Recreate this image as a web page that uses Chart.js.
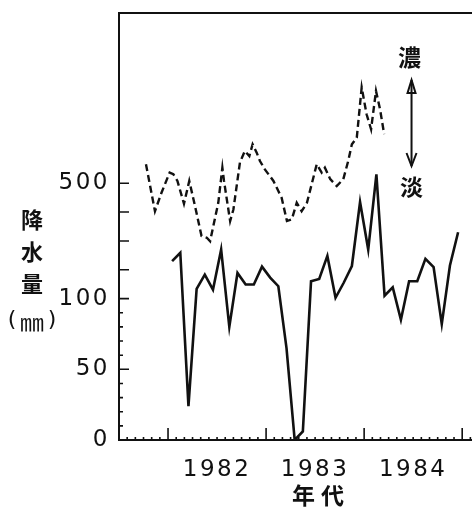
<!DOCTYPE html>
<html>
<head>
<meta charset="utf-8">
<script src="https://cdn.jsdelivr.net/npm/chart.js@4/dist/chart.umd.min.js"></script>
<style>
  html, body { margin: 0; padding: 0; background: #fff; }
  #wrap { width: 472px; height: 507px; }
</style>
</head>
<body>
<div id="wrap"><canvas id="chart"></canvas></div>
<script>
// months counted from the start of Jan 1982
const rainMonths = [0.5, 1.5, 2.5, 3.5, 4.5, 5.5, 6.5, 7.5, 8.5, 9.5, 10.5, 11.5,
  12.5, 13.5, 14.5, 15.5, 16.5, 17.5, 18.5, 19.5, 20.5, 21.5, 22.5, 23.5,
  24.5, 25.5, 26.5, 27.5, 28.5, 29.5, 30.5, 31.5, 32.5, 33.5, 34.5, 35.5];
const rainfall = [230, 259, 24, 134, 183, 131, 270, 80, 189, 149, 149, 211,
  173, 143, 65, 0, 6, 160, 168, 248, 103, 155, 213, 435,
  270, 531, 110, 139, 85, 160, 160, 238, 209, 82, 215, 330];

// dashed curve (concentration, drawn against the same axis)
const concMonths = [-2.7, -1.6, -0.8, 0.2, 0.65, 1.15, 1.95, 2.6, 3.3, 4.1, 4.75, 5.15,
  6.15, 6.65, 6.85, 7.6, 8.0, 8.8, 9.4, 9.95, 10.35, 10.85, 11.25, 11.85,
  12.9, 13.5, 13.9, 14.55, 15.15, 15.75, 16.35, 17.0, 18.2, 18.8, 19.2, 19.85,
  20.65, 21.45, 22.05, 22.5, 23.1, 23.7, 24.3, 24.85, 25.45, 25.95, 26.45];
const concLevel = [566, 403, 467, 537, 531, 508, 429, 508, 421, 317, 311, 299,
  432, 554, 508, 369, 409, 572, 612, 594, 635, 606, 577, 548,
  508, 473, 450, 369, 375, 432, 403, 432, 566, 537, 554, 514,
  490, 514, 577, 635, 658, 832, 739, 687, 820, 756, 670];

const yearLabels = ['1982', '1983', '1984'];
const yearLabelAt = [6, 18, 30];
const yearStarts = [0, 12, 24, 36];
const yLabelTicks = [0, 50, 100, 500];
const yLongTicks = [0, 50, 100, 200, 300, 400, 500];
const yShortTicks = [10, 20, 30, 40, 60, 70, 80, 90];

// axis is linear up to 100 mm, then compressed above it
const BREAK_AT = 100;
const LOW_STEP = 50;
const HIGH_STEP = 245;

function toUnits(v) {
  return v <= BREAK_AT ? v / LOW_STEP : BREAK_AT / LOW_STEP + (v - BREAK_AT) / HIGH_STEP;
}
function fromUnits(u) {
  const b = BREAK_AT / LOW_STEP;
  return u <= b ? u * LOW_STEP : BREAK_AT + (u - b) * HIGH_STEP;
}

class BrokenScale extends Chart.LinearScale {
  determineDataLimits() {
    this.min = toUnits(this.options.min);
    this.max = toUnits(this.options.max);
  }
  buildTicks() {
    return yLabelTicks.map(v => ({ value: v }));
  }
  getPixelForValue(value) {
    return super.getPixelForValue(toUnits(value));
  }
  getValueForPixel(pixel) {
    return fromUnits(super.getValueForPixel(pixel));
  }
}
BrokenScale.id = 'broken';
Chart.register(BrokenScale);

const INK = '#111';

const spacing = {
  id: 'spacing',
  beforeUpdate(chart) { chart.ctx.letterSpacing = '2.5px'; },
  beforeDraw(chart) { chart.ctx.letterSpacing = '2.5px'; }
};

const decor = {
  id: 'decor',
  afterDraw(chart) {
    const ctx = chart.ctx;
    const area = chart.chartArea;
    const xs = chart.scales.x;
    const ys = chart.scales.y;
    ctx.save();
    ctx.strokeStyle = INK;
    ctx.fillStyle = INK;

    // top frame line
    ctx.lineWidth = 2;
    ctx.beginPath();
    ctx.moveTo(area.left - 1, area.top);
    ctx.lineTo(area.right, area.top);
    ctx.stroke();

    // inward ticks
    ctx.lineWidth = 1.6;
    ctx.beginPath();
    yLongTicks.forEach(v => {
      const p = ys.getPixelForValue(v);
      ctx.moveTo(area.left, p);
      ctx.lineTo(area.left + 10, p);
    });
    yShortTicks.forEach(v => {
      const p = ys.getPixelForValue(v);
      ctx.moveTo(area.left, p);
      ctx.lineTo(area.left + 4, p);
    });
    yearStarts.forEach(v => {
      const p = xs.getPixelForValue(v);
      ctx.moveTo(p, area.bottom);
      ctx.lineTo(p, area.bottom - 12);
    });
    for (let m = Math.ceil(xs.min); m <= xs.max; m++) {
      const p = xs.getPixelForValue(m);
      ctx.moveTo(p, area.bottom);
      ctx.lineTo(p, area.bottom - 3);
    }
    ctx.stroke();

    ctx.textAlign = 'center';
    ctx.textBaseline = 'middle';

    // y title, stacked
    ctx.letterSpacing = '0px';
    ctx.font = 'bold 22px "Noto Sans CJK JP"';
    const tx = area.left - 87;
    const base = ys.getPixelForValue(100);
    ['降', '水', '量'].forEach((ch, i) => ctx.fillText(ch, tx, base - 79 + i * 32));
    ctx.font = '24px "Noto Sans CJK JP"';
    ctx.fillText('㎜', tx, base + 23);
    ctx.font = '22px "DejaVu Sans"';
    ctx.fillText('(', tx - 20, base + 22);
    ctx.fillText(')', tx + 20, base + 22);

    // x title
    ctx.font = 'bold 23px "Noto Sans CJK JP"';
    ctx.letterSpacing = '6px';
    ctx.fillText('年代', xs.getPixelForValue(18) + 6, chart.height - 12);
    ctx.letterSpacing = '0px';

    // 濃 ↕ 淡
    const ax = xs.getPixelForValue(29.8);
    ctx.font = 'bold 23px "Noto Sans CJK JP"';
    ctx.fillText('濃', ax - 2, area.top + 44);
    ctx.fillText('淡', ax, area.top + 174);
    const y1 = area.top + 67, y2 = area.top + 153;
    ctx.lineWidth = 2;
    ctx.beginPath();
    ctx.moveTo(ax, y1);
    ctx.lineTo(ax, y2);
    ctx.stroke();
    ctx.beginPath();
    ctx.moveTo(ax, y1);
    ctx.lineTo(ax - 4, y1 + 13);
    ctx.lineTo(ax + 4, y1 + 13);
    ctx.closePath();
    ctx.stroke();
    ctx.beginPath();
    ctx.moveTo(ax - 5, y2 - 13);
    ctx.lineTo(ax, y2);
    ctx.lineTo(ax + 5, y2 - 13);
    ctx.stroke();

    ctx.restore();
  }
};

new Chart(document.getElementById('chart'), {
  type: 'line',
  data: {
    datasets: [
      {
        label: '降水量',
        data: rainMonths.map((m, i) => ({ x: m, y: rainfall[i] })),
        borderColor: INK,
        borderWidth: 2.6,
        pointRadius: 0,
        tension: 0
      },
      {
        label: '濃度',
        data: concMonths.map((m, i) => ({ x: m, y: concLevel[i] })),
        borderColor: INK,
        borderWidth: 2.4,
        borderDash: [7, 4],
        pointRadius: 0,
        tension: 0
      }
    ]
  },
  options: {
    responsive: true,
    maintainAspectRatio: false,
    animation: false,
    layout: { padding: { top: 13, left: 0, right: 0, bottom: 0 } },
    plugins: {
      legend: { display: false },
      tooltip: { enabled: false }
    },
    scales: {
      x: {
        type: 'linear',
        min: -6,
        max: 37.2,
        afterFit(scale) {
          scale.height = 67;
          scale.paddingLeft = 0;
          scale.paddingRight = 0;
        },
        afterBuildTicks(scale) { scale.ticks = yearLabelAt.map(v => ({ value: v })); },
        grid: { display: false, drawTicks: false },
        border: { display: true, color: INK, width: 2 },
        ticks: {
          autoSkip: false,
          maxRotation: 0,
          padding: 16,
          color: INK,
          font: { family: 'DejaVu Sans', size: 23 },
          callback: v => yearLabels[yearLabelAt.indexOf(v)]
        }
      },
      y: {
        type: 'broken',
        min: 0,
        max: 1090,
        afterFit(scale) {
          scale.width = 119;
          scale.paddingTop = 0;
          scale.paddingBottom = 0;
        },
        grid: { display: false, drawTicks: false },
        border: { display: true, color: INK, width: 2 },
        ticks: {
          autoSkip: false,
          padding: 9,
          color: INK,
          font: { family: 'DejaVu Sans', size: 23 },
          callback: v => String(v)
        }
      }
    }
  },
  plugins: [spacing, decor]
});
</script>
</body>
</html>
